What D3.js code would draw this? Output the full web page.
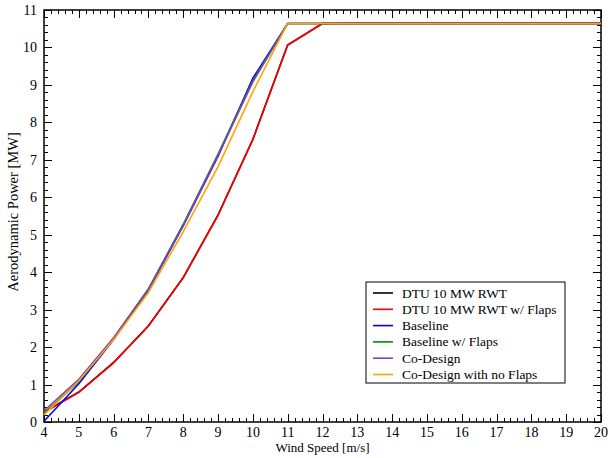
<!DOCTYPE html>
<html>
<head>
<meta charset="utf-8">
<script src="https://cdn.jsdelivr.net/npm/d3@7"></script>
<style>
  body { margin: 0; background: #fff; }
  text { font-family: "Liberation Serif", "DejaVu Serif", serif; fill: #000; }
</style>
</head>
<body>
<div id="chart"></div>
<script>
// wind speeds [m/s]
const windSpeed = [4, 5, 6, 7, 8, 9, 10, 11, 12, 13, 14, 15, 16, 17, 18, 19, 20]

// aerodynamic power [MW]
const dtu = [0.26, 0.80, 1.59, 2.57, 3.86, 5.53, 7.55, 10.07, 10.64, 10.64, 10.64, 10.64, 10.64, 10.64, 10.64, 10.64, 10.64]
const dtuFlaps = [0.26, 0.79, 1.58, 2.56, 3.85, 5.52, 7.54, 10.06, 10.64, 10.65, 10.65, 10.65, 10.65, 10.65, 10.65, 10.65, 10.65]
const baseline = [0.02, 1.02, 2.20, 3.52, 5.24, 7.10, 9.18, 10.64, 10.64, 10.64, 10.64, 10.64, 10.64, 10.64, 10.64, 10.64, 10.64]
const baselineFlaps = [0.23, 1.08, 2.23, 3.55, 5.28, 7.15, 9.12, 10.64, 10.64, 10.64, 10.64, 10.64, 10.64, 10.64, 10.64, 10.64, 10.64]
const coDesign = [0.30, 1.14, 2.25, 3.55, 5.25, 7.12, 9.08, 10.64, 10.64, 10.64, 10.64, 10.64, 10.64, 10.64, 10.64, 10.64, 10.64]
const coDesignNoFlaps = [0.19, 1.10, 2.20, 3.46, 5.08, 6.82, 8.82, 10.64, 10.64, 10.64, 10.64, 10.64, 10.64, 10.64, 10.64, 10.64, 10.64]

const seriesNames = ["DTU 10 MW RWT", "DTU 10 MW RWT w/ Flaps", "Baseline", "Baseline w/ Flaps", "Co-Design", "Co-Design with no Flaps"]
const seriesValues = [dtu, dtuFlaps, baseline, baselineFlaps, coDesign, coDesignNoFlaps]
const colors = ["#000000", "#ff0000", "#0000ff", "#008c00", "#7f3fbf", "#ffa500"]

const xTicks = d3.range(4, 21, 1)
const yTicks = d3.range(0, 12, 1)

const width = 608, height = 458
const plotLeft = 44, plotRight = 601, plotTop = 10, plotBottom = 422

const svg = d3.select("#chart").append("svg")
  .attr("width", width)
  .attr("height", height)

const x = d3.scaleLinear().domain([4, 20]).range([plotLeft, plotRight])
const y = d3.scaleLinear().domain([0, 11]).range([plotBottom, plotTop])

// frame
svg.append("rect")
  .attr("x", plotLeft).attr("y", plotTop)
  .attr("width", plotRight - plotLeft).attr("height", plotBottom - plotTop)
  .attr("fill", "none").attr("stroke", "#000").attr("stroke-width", 1.5)

// inward ticks on all four sides
const xMinor = d3.range(4, 20.001, 0.2)
const yMinor = d3.range(0, 11.001, 0.2)
const isMajor = (v) => Math.abs(v - Math.round(v)) < 1e-6
const ticks = svg.append("g").attr("stroke", "#000").attr("stroke-width", 1)

xMinor.forEach((v) => {
  const len = isMajor(v) ? 8 : 4
  const px = Math.round(x(v)) + 0.5
  ticks.append("line").attr("x1", px).attr("x2", px).attr("y1", plotBottom).attr("y2", plotBottom - len)
  ticks.append("line").attr("x1", px).attr("x2", px).attr("y1", plotTop).attr("y2", plotTop + len)
})
yMinor.forEach((v) => {
  const len = isMajor(v) ? 8 : 4
  const py = Math.round(y(v)) + 0.5
  ticks.append("line").attr("y1", py).attr("y2", py).attr("x1", plotLeft).attr("x2", plotLeft + len)
  ticks.append("line").attr("y1", py).attr("y2", py).attr("x1", plotRight).attr("x2", plotRight - len)
})

// tick labels
svg.append("g").selectAll("text").data(xTicks).join("text")
  .attr("x", (d) => x(d))
  .attr("y", plotBottom + 15)
  .attr("text-anchor", "middle")
  .attr("font-size", 14)
  .text((d) => d)

svg.append("g").selectAll("text").data(yTicks).join("text")
  .attr("x", plotLeft - 7)
  .attr("y", (d) => y(d) + 5)
  .attr("text-anchor", "end")
  .attr("font-size", 14)
  .text((d) => d)

// axis titles
svg.append("text")
  .attr("x", (plotLeft + plotRight) / 2)
  .attr("y", 452)
  .attr("text-anchor", "middle")
  .attr("font-size", 13)
  .text("Wind Speed [m/s]")

svg.append("text")
  .attr("transform", `translate(18, 212) rotate(-90)`)
  .attr("text-anchor", "middle")
  .attr("font-size", 14.5)
  .text("Aerodynamic Power [MW]")

// lines
const line = d3.line()
  .x((d, i) => x(windSpeed[i]))
  .y((d) => y(d))

svg.append("g").selectAll("path").data(seriesValues).join("path")
  .attr("d", (d) => line(d))
  .attr("fill", "none")
  .attr("stroke", (d, i) => colors[i])
  .attr("stroke-width", 1.6)
  .attr("stroke-linejoin", "round")

// legend
const lx = 366, ly = 282, lw = 199, lh = 101
const legend = svg.append("g")
legend.append("rect")
  .attr("x", lx).attr("y", ly).attr("width", lw).attr("height", lh)
  .attr("fill", "#fff").attr("stroke", "#000").attr("stroke-width", 1)

const rows = legend.selectAll("g").data(seriesNames).join("g")
  .attr("transform", (d, i) => `translate(0, ${ly + 11 + i * 16.3})`)
rows.append("line")
  .attr("x1", lx + 7).attr("x2", lx + 27)
  .attr("stroke", (d, i) => colors[i])
  .attr("stroke-width", 1.6)
rows.append("text")
  .attr("x", lx + 36)
  .attr("y", 4.5)
  .attr("font-size", 13.5)
  .text((d) => d)
</script>
</body>
</html>
